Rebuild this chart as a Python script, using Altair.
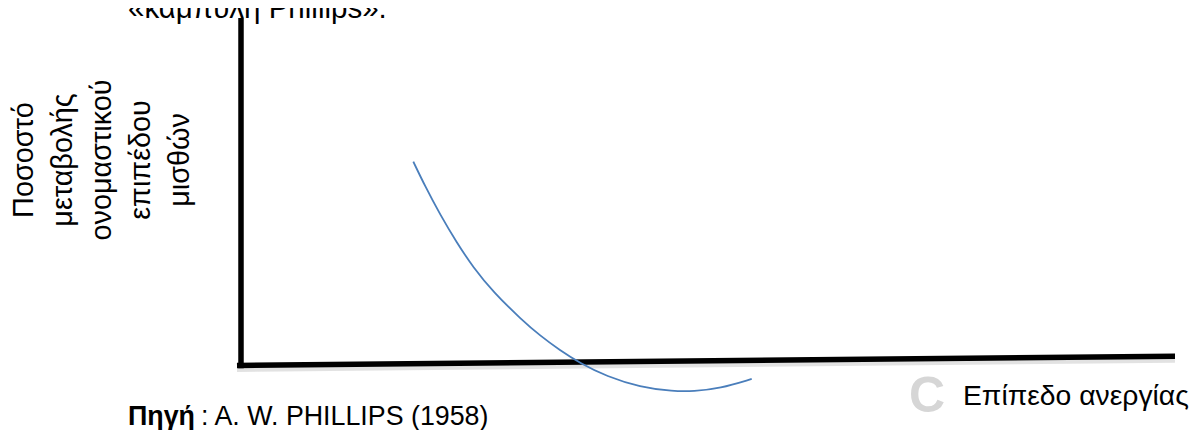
import altair as alt
import pandas as pd

# Phillips curve (schematic): unemployment level (u) vs. rate of change of nominal wages (w)
curve_u = [18.45, 19.70, 21.31, 23.09, 24.87, 27.01, 30.05, 32.01, 34.15, 36.30, 39.15, 42.72, 46.29, 48.43, 51.28, 54.68]
curve_w = [58.65, 51.65, 43.45, 35.40, 28.20, 21.15, 13.15, 8.63, 4.37, 0.69, -3.14, -6.22, -7.45, -7.45, -6.62, -3.88]

# hand-drawn axes of the diagram
yaxis_u = [0, 0]
yaxis_w = [-0.8, 100]
xaxis_u = [-0.43, 100]
xaxis_w = [0, 2.68]

title_text = "«καμπύλη Phillips»."
ylabel_lines = ["Ποσοστό", "μεταβολής", "ονομαστικού", "επιπέδου", "μισθών"]
xlabel_text = "Επίπεδο ανεργίας"
source_bold = "Πηγή"
source_rest = ": A. W. PHILLIPS (1958)"
watermark = "C"

FONT = "Liberation Sans"
W, H = 1185, 422

# scales: origin of the diagram at plot pixel (233, 357.5), 9.34 px per u-unit, 3.475 px per w-unit
xs = alt.Scale(domain=[-233 / 9.34, (W - 233) / 9.34], nice=False, zero=False)
ys = alt.Scale(domain=[-(H - 357.5) / 3.475, 357.5 / 3.475], nice=False, zero=False)

curve_df = pd.DataFrame({"u": curve_u, "w": curve_w})
yax_df = pd.DataFrame({"u": yaxis_u, "w": yaxis_w})
xax_df = pd.DataFrame({"u": xaxis_u, "w": xaxis_w})

X = lambda: alt.X("u:Q", scale=xs, axis=None)
Y = lambda: alt.Y("w:Q", scale=ys, axis=None)

xshadow = alt.Chart(xax_df).mark_line(color="#cfcfcf", strokeWidth=5, opacity=0.6, yOffset=4, strokeCap="butt").encode(x=X(), y=Y())
xaxis = alt.Chart(xax_df).mark_line(color="#000000", strokeWidth=5.5, strokeCap="butt").encode(x=X(), y=Y())
yaxis = alt.Chart(yax_df).mark_line(color="#000000", strokeWidth=5.5, strokeCap="butt").encode(x=X(), y=Y())
curve = alt.Chart(curve_df).mark_line(color="#4a7ebb", strokeWidth=1.8, interpolate="basis").encode(x=X(), y=Y())

one = pd.DataFrame({"k": [0]})

def label(text, x, y, **kw):
    base = dict(font=FONT, color="#000000", align="left", baseline="alphabetic")
    base.update(kw)
    return alt.Chart(one).mark_text(text=text, **base).encode(x=alt.value(x), y=alt.value(y))

title = label(title_text, 120, 10, fontSize=29.5)
ylab = label(ylabel_lines, 25, 152, fontSize=28.8, angle=270, align="center", lineHeight=39)
xlab = label(xlabel_text, 955, 397, fontSize=28.3)
src1 = label(source_bold, 120, 417, fontSize=26.8, fontWeight="bold")
src2 = label(source_rest, 193, 417, fontSize=26.8)
wm = label(watermark, 919, 389, fontSize=50, fontWeight="bold", color="#d6d6d6", align="center", baseline="middle")

chart = alt.layer(wm, xshadow, xaxis, yaxis, curve, title, ylab, xlab, src1, src2).properties(
    width=W, height=H,
    autosize=alt.AutoSizeParams(type="none"),
    padding=0,
    background="#ffffff",
).configure_view(stroke=None)

chart.save("out.html", embed_options={"renderer": "svg", "actions": False})
